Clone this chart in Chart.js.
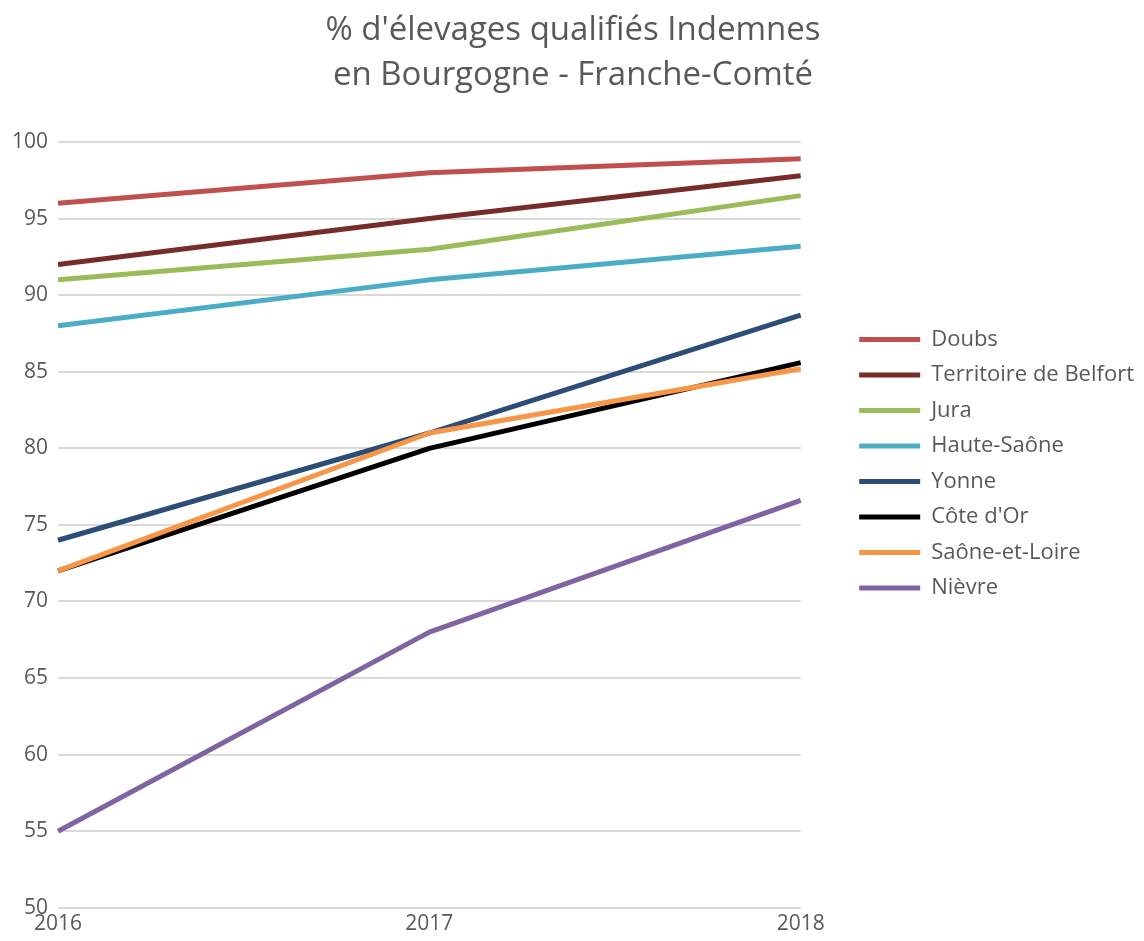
<!DOCTYPE html>
<html>
<head>
<meta charset="utf-8">
<script src="https://cdn.jsdelivr.net/npm/chart.js@4.4.1/dist/chart.umd.min.js"></script>
<style>
html,body{margin:0;padding:0;background:#fff;}
#wrap{width:1144px;height:941px;}
</style>
</head>
<body>
<div id="wrap"><canvas id="c" width="1144" height="941"></canvas></div>
<script>
const years = ['2016', '2017', '2018'];
const seriesNames = ['Doubs', 'Territoire de Belfort', 'Jura', 'Haute-Saône', 'Yonne', "Côte d'Or", 'Saône-et-Loire', 'Nièvre'];
const doubs = [96, 98, 98.9];
const belfort = [92, 95, 97.8];
const jura = [91, 93, 96.5];
const hauteSaone = [88, 91, 93.2];
const yonne = [74, 81, 88.7];
const coteDor = [72, 80, 85.6];
const saoneEtLoire = [72, 81, 85.2];
const nievre = [55, 68, 76.6];
const yTicks = [50, 55, 60, 65, 70, 75, 80, 85, 90, 95, 100];

const seriesValues = [doubs, belfort, jura, hauteSaone, yonne, coteDor, saoneEtLoire, nievre];
const colors = ['#C0504D', '#772C2A', '#9BBB59', '#4BACC6', '#2C4D75', '#000000', '#F79646', '#8064A2'];
const FONT = "'Open Sans', sans-serif";

const datasets = seriesValues.map((vals, i) => ({
  label: seriesNames[i],
  data: vals,
  borderColor: colors[i],
  backgroundColor: colors[i],
  borderWidth: 5,
  pointRadius: 0,
  pointHoverRadius: 0,
  tension: 0,
  fill: false,
  borderCapStyle: 'butt',
  borderJoinStyle: 'round',
  order: seriesValues.length - i
}));

new Chart(document.getElementById('c'), {
  type: 'line',
  data: { labels: years, datasets },
  options: {
    responsive: false,
    animation: false,
    layout: { padding: { left: 2, right: 0, top: 6, bottom: 0 } },
    plugins: {
      tooltip: { enabled: false },
      title: {
        display: true,
        text: ["% d'élevages qualifiés Indemnes", 'en Bourgogne - Franche-Comté'],
        color: '#595959',
        font: { family: FONT, size: 33, weight: 'normal', lineHeight: 1.364 },
        padding: { top: 2, bottom: 44 }
      },
      legend: {
        position: 'right',
        align: 'start',
        maxWidth: 420,
        title: { display: true, text: ' ', font: { size: 10 }, padding: { top: 148, bottom: 149 } },
        labels: {
          sort: (a, b) => a.datasetIndex - b.datasetIndex,
          boxWidth: 61,
          boxHeight: 5,
          padding: 13.5,
          color: '#595959',
          font: { family: FONT, size: 22 },
          generateLabels: (chart) => chart.data.datasets.map((d, i) => ({
            text: d.label,
            fillStyle: d.borderColor,
            strokeStyle: d.borderColor,
            lineWidth: 0,
            hidden: false,
            datasetIndex: i,
            fontColor: '#595959'
          }))
        }
      }
    },
    scales: {
      x: {
        type: 'category',
        offset: false,
        grid: { display: false, drawTicks: false },
        border: { display: false },
        ticks: { color: '#595959', font: { family: FONT, size: 21 }, padding: 4, maxRotation: 0 }
      },
      y: {
        min: 50,
        max: 100,
        afterBuildTicks: (s) => { s.ticks = yTicks.map(v => ({ value: v })); },
        grid: { color: '#D9D9D9', lineWidth: 2, drawTicks: false },
        border: { display: false },
        ticks: { color: '#595959', font: { family: FONT, size: 21 }, padding: 10 }
      },
      gap: {
        type: 'linear',
        position: 'right',
        display: true,
        grid: { display: false, drawTicks: false },
        border: { display: false },
        ticks: { display: false },
        afterFit: (s) => { s.width = 45; }
      }
    }
  }
});
</script>
</body>
</html>
